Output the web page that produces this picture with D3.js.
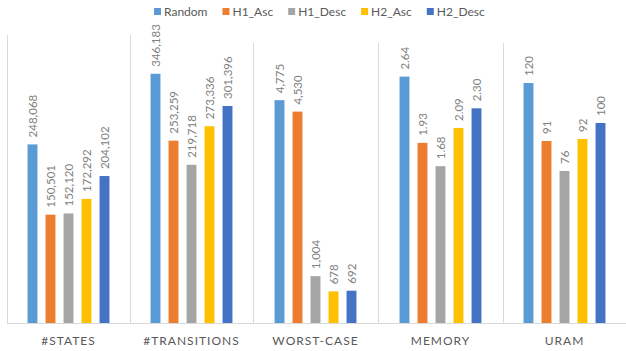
<!DOCTYPE html>
<html>
<head>
<meta charset="utf-8">
<script src="https://cdn.jsdelivr.net/npm/d3@7"></script>
<style>
  html, body { margin: 0; padding: 0; background: #fff; }
  svg { display: block; }
  text { font-family: Lato, "Open Sans", sans-serif; }
</style>
</head>
<body>
<svg id="chart" width="626" height="351"></svg>
<script>
// ---- data ----
const categories = ["#STATES", "#TRANSITIONS", "WORST-CASE", "MEMORY", "URAM"];
const seriesNames = ["Random", "H1_Asc", "H1_Desc", "H2_Asc", "H2_Desc"];
const randomVals = [248068, 346183, 4775, 2.64, 120];
const h1AscVals  = [150501, 253259, 4530, 1.93, 91];
const h1DescVals = [152120, 219718, 1004, 1.68, 76];
const h2AscVals  = [172292, 273336, 678, 2.09, 92];
const h2DescVals = [204102, 301396, 692, 2.30, 100];
const axisMax = [400000, 400000, 6000, 3, 140];
const labelFormats = [",", ",", ",", ".2f", "d"];

const seriesValues = [randomVals, h1AscVals, h1DescVals, h2AscVals, h2DescVals];
const colors = ["#5B9BD5", "#ED7D31", "#A5A5A5", "#FFC000", "#4472C4"];

// ---- layout ----
const svg = d3.select("#chart");
const panelEdges = [7, 130, 253, 378, 503, 626];
const panelTops = [35, 35, 43, 43, 43];
const baseY = 323;
const gridColor = "#d9d9d9";

categories.forEach((cat, i) => {
  const x0 = panelEdges[i], x1 = panelEdges[i + 1];
  const cx = (x0 + x1) / 2;
  const g = svg.append("g");

  const y = d3.scaleLinear().domain([0, axisMax[i]]).range([baseY, panelTops[i]]);
  const xb = d3.scaleBand().domain(seriesNames)
    .range([cx - 45, cx + 45]).paddingInner(0.45).paddingOuter(0.225);

  g.append("line").attr("x1", x0 + 0.5).attr("x2", x0 + 0.5)
    .attr("y1", panelTops[i]).attr("y2", baseY)
    .attr("stroke", gridColor).attr("stroke-width", 1);

  const rows = seriesNames.map((s, k) => ({ s, k, v: seriesValues[k][i] }));

  g.selectAll("rect").data(rows).join("rect")
    .attr("x", d => xb(d.s))
    .attr("width", xb.bandwidth())
    .attr("y", d => y(d.v))
    .attr("height", d => baseY - y(d.v))
    .attr("fill", d => colors[d.k]);

  g.append("line").attr("x1", x0).attr("x2", x1)
    .attr("y1", baseY + 0.5).attr("y2", baseY + 0.5)
    .attr("stroke", gridColor).attr("stroke-width", 1);

  const fmt = d3.format(labelFormats[i]);
  g.selectAll("text.lbl").data(rows).join("text")
    .attr("class", "lbl")
    .attr("transform", d => `translate(${xb(d.s) + xb.bandwidth() / 2},${y(d.v) - 7}) rotate(-90)`)
    .attr("dy", "0.35em")
    .attr("text-anchor", "start")
    .attr("font-size", "11.5px")
    .attr("fill", "#808080")
    .text(d => fmt(d.v));

  g.append("text")
    .attr("x", cx).attr("y", 345)
    .attr("text-anchor", "middle")
    .attr("font-size", "12px")
    .attr("letter-spacing", "1px")
    .attr("fill", "#595959")
    .text(cat);
});

// ---- legend ----
const legend = svg.append("g");
let lx = 154;
seriesNames.forEach((s, k) => {
  legend.append("rect").attr("x", lx).attr("y", 8).attr("width", 7).attr("height", 7)
    .attr("fill", colors[k]);
  const t = legend.append("text").attr("x", lx + 10).attr("y", 15.5)
    .attr("font-size", "12px").attr("fill", "#595959").text(s);
  lx += 10 + t.node().getComputedTextLength() + 15;
});
</script>
</body>
</html>
